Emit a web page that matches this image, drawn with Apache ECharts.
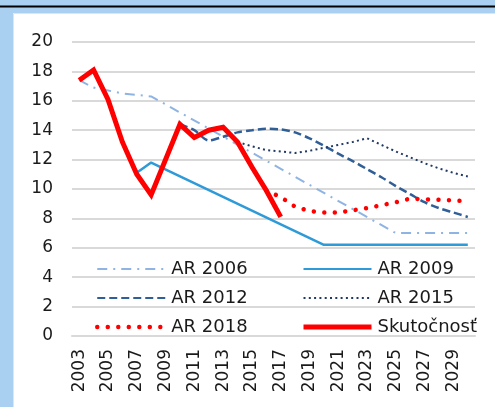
<!DOCTYPE html>
<html>
<head>
<meta charset="utf-8">
<script src="https://cdn.jsdelivr.net/npm/echarts@6/dist/echarts.min.js"></script>
<style>
  html, body { margin: 0; padding: 0; background: #fff; }
  #chart { width: 495px; height: 407px; }
</style>
</head>
<body>
<div id="chart"></div>
<script>
// roky na osi x
var years = ['2003', '2004', '2005', '2006', '2007', '2008', '2009', '2010', '2011', '2012',
  '2013', '2014', '2015', '2016', '2017', '2018', '2019', '2020', '2021', '2022',
  '2023', '2024', '2025', '2026', '2027', '2028', '2029', '2030'];

var yTicks = [0, 2, 4, 6, 8, 10, 12, 14, 16, 18, 20];

// null = rok bez hodnoty, ciara sa spoji (connectNulls)
var ar2006 = [17.4, 16.9, 16.7, 16.5, 16.4, 16.3,
  null, null, null, null, null, null, null, null, null, null, null, null, null, null, null, null,
  7.0, 7.0, 7.0, 7.0, 7.0, 7.0];
var ar2009 = [null, null, null, null, 11.1, 11.8,
  null, null, null, null, null, null, null, null, null, null, null,
  6.2, 6.2, 6.2, 6.2, 6.2, 6.2, 6.2, 6.2, 6.2, 6.2, 6.2];
var ar2012 = [null, null, null, null, null, null, null,
  14.4, 14.0, 13.3, 13.55, 13.85, 14.0, 14.1, 14.05, 13.85, 13.45, 12.95, 12.4, 11.9, 11.35,
  10.8, 10.2, 9.65, 9.1, 8.7, 8.4, 8.1];
var ar2015 = [null, null, null, null, null, null, null, null, null, null, null,
  13.2, 12.9, 12.65, 12.55, 12.45, 12.6, 12.8, 13.0, 13.2, 13.45, 13.0, 12.55, 12.15, 11.75,
  11.4, 11.1, 10.85];
var ar2018 = [null, null, null, null, null, null, null, null, null, null, null, null, null,
  9.9, 9.45, 8.8, 8.5, 8.4, 8.4, 8.55, 8.7, 8.9, 9.1, 9.35, 9.3, 9.27, 9.22, 9.16];
var skutocnost = [17.4, 18.1, 16.1, 13.2, 11.0, 9.6, null, 14.4, 13.5, 14.0, 14.2, 13.2,
  11.5, 9.9, 8.1, null, null, null, null, null, null, null, null, null, null, null, null, null];

var FONT = 'DejaVu Sans';
var TXT = '#1a1a1a';

var chart = echarts.init(document.getElementById('chart'));

function lineSeries(name, data, color, width, type, extra) {
  var s = {
    name: name,
    type: 'line',
    data: data,
    connectNulls: true,
    symbol: 'none',
    animation: false,
    lineStyle: { color: color, width: width, type: type },
    itemStyle: { color: color }
  };
  return Object.assign(s, extra || {});
}

var legendBase = {
  orient: 'vertical',
  top: 259,
  itemWidth: 68,
  itemHeight: 14,
  itemGap: 9,
  itemStyle: { opacity: 0 },
  textStyle: { fontFamily: FONT, fontSize: 18, color: TXT, lineHeight: 20, padding: [0, 0, 0, 1] },
  padding: 0
};

chart.setOption({
  backgroundColor: '#ffffff',
  animation: false,
  // ramik: modry pas hore a vlavo
  graphic: [
    { type: 'rect', shape: { x: 0, y: 0, width: 495, height: 13 }, style: { fill: '#a9d0f0' }, silent: true },
    { type: 'rect', shape: { x: 0, y: 0, width: 13, height: 407 }, style: { fill: '#a9d0f0' }, silent: true },
    { type: 'line', shape: { x1: 0, y1: 6.5, x2: 495, y2: 6.5 }, style: { stroke: '#000', lineWidth: 2 }, silent: true },
    { type: 'rect', shape: { x: 13.5, y: 13.5, width: 490, height: 400 }, style: { fill: 'none', stroke: '#e4e4e4', lineWidth: 1 }, silent: true }
  ],
  legend: [
    Object.assign({}, legendBase, { left: 95, data: [
      { name: 'AR 2006' }, { name: 'AR 2012' }, { name: 'AR 2018', lineStyle: { width: 4.5 } }
    ] }),
    Object.assign({}, legendBase, { left: 301, data: [
      { name: 'AR 2009' }, { name: 'AR 2015' }, { name: 'Skutočnosť', lineStyle: { width: 5 } }
    ] })
  ],
  grid: { left: 72, right: 20, top: 42, bottom: 71 },
  xAxis: [{
    type: 'category',
    data: years,
    boundaryGap: true,
    axisLine: { lineStyle: { color: '#d9d9d9', width: 2 } },
    axisTick: { show: false },
    axisLabel: {
      interval: 1,
      rotate: 90,
      margin: 13,
      fontFamily: FONT,
      fontSize: 17,
      color: TXT
    }
  }],
  yAxis: {
    type: 'value',
    min: yTicks[0],
    max: yTicks[yTicks.length - 1],
    interval: 2,
    axisLine: { show: false },
    axisTick: { show: false },
    splitLine: { lineStyle: { color: '#d9d9d9', width: 2 } },
    axisLabel: { margin: 19, fontFamily: FONT, fontSize: 17, color: TXT }
  },
  series: [
    lineSeries('AR 2006', ar2006, '#8fb4e3', 2, [10, 6, 2, 6]),
    lineSeries('AR 2009', ar2009, '#2e9ad8', 2.5, 'solid'),
    lineSeries('AR 2012', ar2012, '#2f5f96', 2.5, [8, 4], { smooth: 0.3 }),
    lineSeries('AR 2015', ar2015, '#1f3864', 2, [2, 3.3]),
    lineSeries('AR 2018', ar2018, '#ff0000', 4.5, [0.01, 10.5], {
      lineStyle: { color: '#ff0000', width: 4.5, type: [0.01, 10.5], cap: 'round' }
    }),
    lineSeries('Skutočnosť', skutocnost, '#ff0000', 5, 'solid', {
      lineStyle: { color: '#ff0000', width: 5, type: 'solid', join: 'miter' }
    })
  ]
});
</script>
</body>
</html>
